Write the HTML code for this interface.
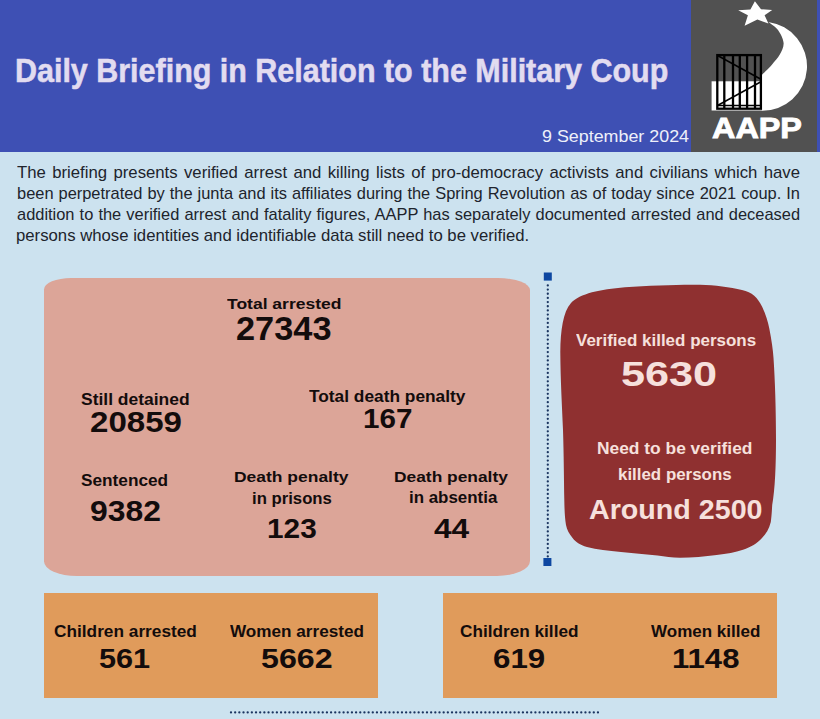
<!DOCTYPE html>
<html lang="en">
<head>
<meta charset="utf-8">
<title>Daily Briefing in Relation to the Military Coup</title>
<style>
html,body{margin:0;padding:0;}
body{width:820px;height:719px;overflow:hidden;background:#cce2ef;font-family:"Liberation Sans",sans-serif;position:relative;}
.abs{position:absolute;}
.t{position:absolute;white-space:nowrap;line-height:1;transform-origin:0 0;font-family:"Liberation Sans",sans-serif;}
.aapp{-webkit-text-stroke:0.9px #fff;}
.ttl{-webkit-text-stroke:0.55px #e2dcf0;}
.hdr{left:0;top:0;width:820px;height:152px;background:#3e50b4;}
.logo{left:691px;top:0;width:126px;height:152px;background:#515151;}
.pink{left:44px;top:278px;width:486px;height:298px;background:#dca598;border-radius:27px 32px 33px 33px / 11.5px 12px 15px 14.7px;}
.or1{left:44px;top:593px;width:334px;height:104.5px;background:#e09b5b;}
.or2{left:442.5px;top:593px;width:334px;height:104.5px;background:#e09b5b;}
.pl{position:absolute;left:17px;white-space:nowrap;line-height:1;transform-origin:0 0;color:#20242c;text-align:justify;text-align-last:justify;}
svg{position:absolute;left:0;top:0;overflow:visible;}
</style>
</head>
<body>

<div class="abs hdr"></div>
<div class="abs logo"></div>
<svg width="820" height="719" viewBox="0 0 820 719">
<path fill="#fff" d="M768.3 22 A44.6 44.6 0 0 1 761.5 110.8 L761.5 75 C761.8 74.8 761.3 75.4 763.0 73.7 C764.7 72.0 768.9 68.1 771.7 64.9 C774.5 61.7 777.8 58.2 779.8 54.6 C781.8 51.0 783.9 47.1 783.6 43.0 C783.3 38.9 780.5 33.5 778.0 30.0 C775.5 26.5 769.9 23.3 768.3 22.0 Z"/>
<rect x="711.6" y="81.3" width="50" height="29.2" fill="#fff"/>
<polygon fill="#fff" points="754.9,1.3 761.0,9.3 772.2,10.0 764.6,15.3 768.4,23.6 757.4,19.4 744.6,25.8 747.9,15.2 738.2,10.2 750.4,9.4"/>
<g stroke="#000" fill="none">
<rect x="717.3" y="55.1" width="43.6" height="53.6" stroke-width="2.3"/>
<line x1="724.3" y1="55" x2="724.3" y2="108" stroke-width="2.3"/>
<line x1="733.0" y1="55" x2="733.0" y2="108" stroke-width="2.3"/>
<line x1="739.8" y1="55" x2="739.8" y2="108" stroke-width="2.3"/>
<line x1="747.1" y1="55" x2="747.1" y2="108" stroke-width="2.3"/>
<line x1="755.0" y1="55" x2="755.0" y2="108" stroke-width="2.3"/>
<line x1="717" y1="105.6" x2="761" y2="105.6" stroke-width="1.5"/>
<line x1="717.5" y1="55.5" x2="760.5" y2="79" stroke-width="1.5"/>
<line x1="717.5" y1="105.5" x2="760.5" y2="82" stroke-width="1.5"/>
</g>
</svg>
<div class="abs pink"></div>
<div class="abs or1"></div>
<div class="abs or2"></div>
<svg width="820" height="719" viewBox="0 0 820 719">
<path fill="#8f3030" d="M560.3 352 C560.6 330 563 312 571 303 C580 293.5 600 289.5 625 287.3 C650 285.3 680 284.4 700 284.7 C715 285 730 287 742 290 C752 292 758 298 762 306.6 C766 315 768 322 769.3 328.6 C771.5 340 773 350 773.5 358 C775 380 776 410 776 440 C776 465 775 490 772.2 505 C771.8 512 771.5 517 770.8 522 C769 529 766 534 762 538 C757 543.5 751 547 743 549.8 C735 552.5 727 554 716.6 555 C705 556.5 692 557.6 680 557.8 C672 557.8 665 556.5 657.5 555.6 C645 554.5 633 553.3 621 552 C608 550.7 597 549.8 587 547 C580 545 575.5 542 572.6 538 C569 533.5 567 530 566 525 C564.8 518 564.5 510 564.3 500 C564 480 563.8 455 563 430 C562 405 560.5 380 560.3 352 Z"/>
<line x1="547.8" y1="285.4" x2="547.8" y2="557" stroke="#1b3560" stroke-width="2.3" stroke-dasharray="0 4.17" stroke-linecap="round"/>
<rect x="543.8" y="272.5" width="8" height="8.1" fill="#0d47a1"/>
<rect x="543.4" y="558" width="8" height="8" fill="#0d47a1"/>
<line x1="231" y1="712.4" x2="600" y2="712.4" stroke="#1b3560" stroke-width="2.3" stroke-dasharray="0 4.17" stroke-linecap="round"/>
</svg>
<div class="t ttl" style="left:15.34px;top:53.98px;font-size:33.45px;font-weight:bold;color:#e2dcf0;transform:scaleX(0.9110)">Daily Briefing in Relation to the Military Coup</div>
<div class="t " style="left:542.05px;top:128.16px;font-size:16.34px;font-weight:normal;color:#eef0fa;transform:scaleX(1.0942)">9 September 2024</div>
<div class="t aapp" style="left:712.09px;top:113.18px;font-size:29.67px;font-weight:bold;color:#fff;transform:scaleX(1.0916)">AAPP</div>
<div class="pl" style="top:165.45px;font-size:16.60px;width:776.93px;transform:scaleX(1.0078)">The briefing presents verified arrest and killing lists of pro-democracy activists and civilians which have</div>
<div class="pl" style="top:186.25px;font-size:16.60px;width:791.44px;transform:scaleX(0.9893)">been perpetrated by the junta and its affiliates during the Spring Revolution as of today since 2021 coup. In</div>
<div class="pl" style="top:206.75px;font-size:16.60px;width:791.82px;transform:scaleX(0.9889)">addition to the verified arrest and fatality figures, AAPP has separately documented arrested and deceased</div>
<div class="t " style="left:15.91px;top:227.67px;font-size:16.60px;font-weight:normal;color:#20242c;transform:scaleX(1.0078)">persons whose identities and identifiable data still need to be verified.</div>
<div class="t " style="left:227.18px;top:296.17px;font-size:15.27px;font-weight:bold;color:#130c0c;transform:scaleX(1.1463)">Total arrested</div>
<div class="t " style="left:235.70px;top:312.99px;font-size:32.65px;font-weight:bold;color:#130c0c;transform:scaleX(1.0522)">27343</div>
<div class="t " style="left:81.48px;top:391.74px;font-size:15.85px;font-weight:bold;color:#130c0c;transform:scaleX(1.1014)">Still detained</div>
<div class="t " style="left:89.54px;top:407.02px;font-size:30.11px;font-weight:bold;color:#130c0c;transform:scaleX(1.0982)">20859</div>
<div class="t " style="left:309.28px;top:388.79px;font-size:16.00px;font-weight:bold;color:#130c0c;transform:scaleX(1.0816)">Total death penalty</div>
<div class="t " style="left:362.55px;top:404.14px;font-size:28.27px;font-weight:bold;color:#130c0c;transform:scaleX(1.0482)">167</div>
<div class="t " style="left:81.48px;top:472.93px;font-size:16.58px;font-weight:bold;color:#130c0c;transform:scaleX(1.0390)">Sentenced</div>
<div class="t " style="left:89.58px;top:495.91px;font-size:29.40px;font-weight:bold;color:#130c0c;transform:scaleX(1.0850)">9382</div>
<div class="t " style="left:234.42px;top:469.86px;font-size:14.69px;font-weight:bold;color:#130c0c;transform:scaleX(1.1887)">Death penalty</div>
<div class="t " style="left:252.03px;top:490.95px;font-size:16.00px;font-weight:bold;color:#130c0c;transform:scaleX(1.0445)">in prisons</div>
<div class="t " style="left:266.54px;top:514.45px;font-size:28.41px;font-weight:bold;color:#130c0c;transform:scaleX(1.0492)">123</div>
<div class="t " style="left:393.83px;top:469.80px;font-size:14.69px;font-weight:bold;color:#130c0c;transform:scaleX(1.1824)">Death penalty</div>
<div class="t " style="left:408.82px;top:489.66px;font-size:16.00px;font-weight:bold;color:#130c0c;transform:scaleX(1.0562)">in absentia</div>
<div class="t " style="left:433.53px;top:514.55px;font-size:27.70px;font-weight:bold;color:#130c0c;transform:scaleX(1.1425)">44</div>
<div class="t " style="left:53.61px;top:623.81px;font-size:16.58px;font-weight:bold;color:#130c0c;transform:scaleX(1.0409)">Children arrested</div>
<div class="t " style="left:99.40px;top:644.43px;font-size:28.55px;font-weight:bold;color:#130c0c;transform:scaleX(1.0742)">561</div>
<div class="t " style="left:230.16px;top:623.81px;font-size:16.58px;font-weight:bold;color:#130c0c;transform:scaleX(1.0334)">Women arrested</div>
<div class="t " style="left:261.15px;top:644.47px;font-size:28.27px;font-weight:bold;color:#130c0c;transform:scaleX(1.1386)">5662</div>
<div class="t " style="left:460.21px;top:623.81px;font-size:16.58px;font-weight:bold;color:#130c0c;transform:scaleX(1.0373)">Children killed</div>
<div class="t " style="left:493.23px;top:644.47px;font-size:28.27px;font-weight:bold;color:#130c0c;transform:scaleX(1.1067)">619</div>
<div class="t " style="left:651.26px;top:623.81px;font-size:16.58px;font-weight:bold;color:#130c0c;transform:scaleX(1.0260)">Women killed</div>
<div class="t " style="left:671.56px;top:644.47px;font-size:28.27px;font-weight:bold;color:#130c0c;transform:scaleX(1.0996)">1148</div>
<div class="t " style="left:576.17px;top:333.08px;font-size:16.87px;font-weight:bold;color:#f6e0dc;transform:scaleX(1.0067)">Verified killed persons</div>
<div class="t " style="left:620.50px;top:356.09px;font-size:35.34px;font-weight:bold;color:#f6e0dc;transform:scaleX(1.2228)">5630</div>
<div class="t " style="left:597.13px;top:439.79px;font-size:16.44px;font-weight:bold;color:#f6e0dc;transform:scaleX(1.0567)">Need to be verified</div>
<div class="t " style="left:618.12px;top:466.09px;font-size:16.44px;font-weight:bold;color:#f6e0dc;transform:scaleX(1.0277)">killed persons</div>
<div class="t " style="left:588.58px;top:496.18px;font-size:27.20px;font-weight:bold;color:#f6e0dc;transform:scaleX(1.0538)">Around 2500</div>
</body>
</html>
